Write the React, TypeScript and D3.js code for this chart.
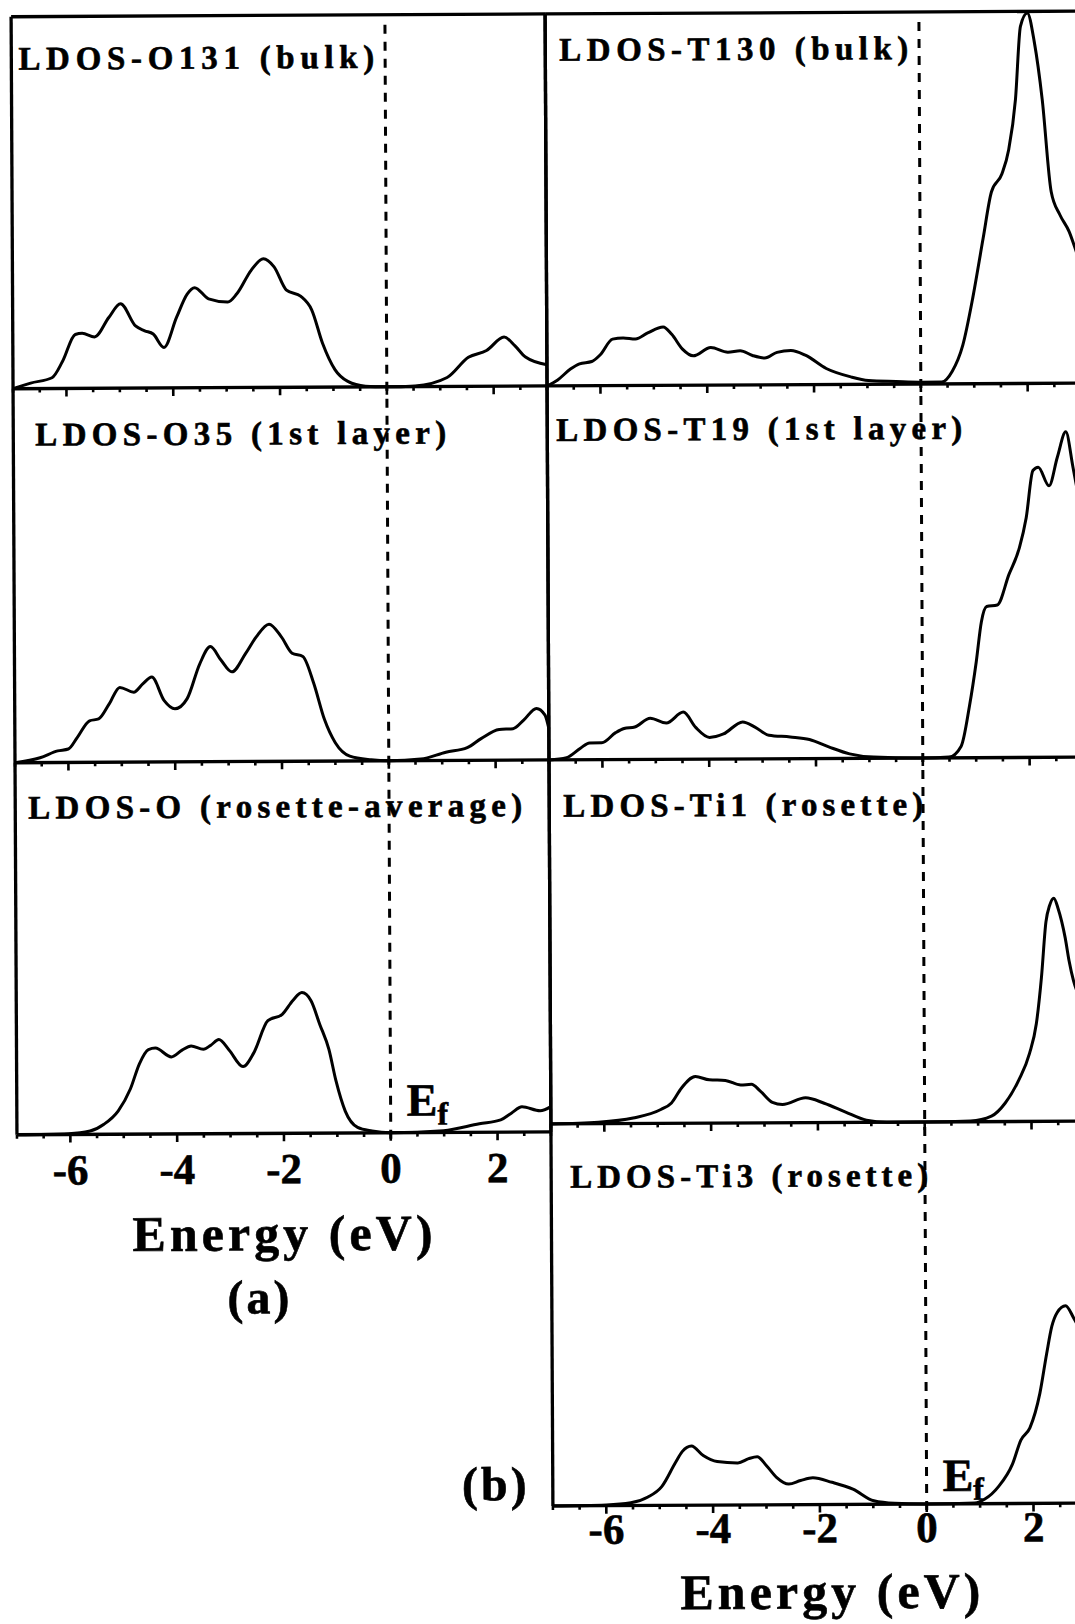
import React from "react";
import * as d3 from "d3";

// energies (eV) and LDOS (arb. units, % of panel height) for each panel
const o131E = [-7, -6.67, -6.27, -6.07, -5.83, -5.7, -5.47, -5.2, -4.98, -4.7, -4.53, -4.37, -4.17, -3.93, -3.73, -3.59, -3.33, -2.97, -2.8, -2.53, -2.3, -2.1, -1.87, -1.6, -1.4, -1.2, -0.97, -0.73, -0.4, 0, 0.53, 1.13, 1.53, 1.87, 2.2, 2.4, 2.6, 3.0];
const o131Dos = [0, 1.5, 2.9, 7.3, 14.5, 14.8, 13.8, 19, 22.7, 16.7, 15.4, 14.5, 10.9, 19, 25.2, 26.9, 23.9, 23, 25.2, 31.5, 34.6, 32.4, 26.1, 24.4, 20.8, 11.8, 4.7, 1.5, 0.2, 0, 0.2, 2.4, 7.8, 9.6, 13.2, 10.9, 7.8, 5.7];

const o35E = [-7, -6.53, -6.2, -6.0, -5.83, -5.6, -5.43, -5.23, -5.03, -4.77, -4.6, -4.43, -4.2, -4.0, -3.77, -3.53, -3.33, -3.13, -2.93, -2.67, -2.47, -2.23, -2.0, -1.8, -1.6, -1.4, -1.2, -1.0, -0.73, -0.33, 0, 0.6, 1.07, 1.47, 1.73, 2.07, 2.33, 2.53, 2.77, 2.93, 3.0];
const o35Dos = [0, 1.3, 3.1, 3.6, 6.7, 11.1, 11.6, 15.6, 20, 18.7, 20.9, 22.7, 16.4, 14.2, 16.9, 26.2, 30.8, 27.1, 24, 28.9, 33.3, 36.7, 33.3, 28.9, 28, 20.9, 11.1, 4.9, 1.3, 0.3, 0, 0.4, 2.2, 3.4, 5.8, 8.2, 8.4, 10.7, 13.8, 12, 8.4];

const oRosE = [-7, -6.03, -5.63, -5.37, -5.1, -4.87, -4.7, -4.53, -4.4, -4.1, -3.9, -3.73, -3.5, -3.36, -3.21, -3.02, -2.76, -2.56, -2.29, -2.02, -1.82, -1.65, -1.48, -1.32, -1.15, -1.02, -0.85, -0.62, -0.35, 0, 0.99, 1.66, 2.06, 2.26, 2.46, 2.8, 3.0];
const oRosDos = [0, 0.2, 0.9, 2.7, 6.3, 12.2, 18.9, 22.7, 23.1, 20.7, 22.5, 23.6, 22.7, 23.8, 25.3, 22.5, 18, 21.6, 30.3, 32, 35.7, 37.8, 35.6, 29.3, 22.5, 14, 5.9, 1.5, 0.5, 0, 0.5, 2.3, 3.3, 5.1, 6.8, 5.7, 6.8];

const t130E = [-7, -6.8, -6.56, -6.39, -6.16, -6.0, -5.77, -5.57, -5.34, -5.11, -4.82, -4.66, -4.46, -4.26, -3.93, -3.61, -3.38, -3.15, -2.92, -2.69, -2.43, -2.16, -1.77, -1.31, -0.98, -0.46, 0, 0.39, 0.59, 0.79, 0.98, 1.18, 1.34, 1.54, 1.67, 1.8, 1.9, 2.03, 2.16, 2.3, 2.46, 2.62, 2.79, 2.92, 3.0];
const t130Dos = [0, 1.6, 4.5, 5.9, 6.5, 8.3, 12.5, 12.8, 12.5, 14.1, 15.7, 13.7, 9.7, 7.9, 10.1, 8.8, 9.2, 7.9, 7.2, 8.7, 9.2, 7.9, 4.3, 2, 1, 0.7, 0.5, 0.5, 3.4, 10.4, 23, 39, 51.5, 56.4, 63, 76.4, 96, 99.6, 91.6, 76.4, 51.5, 45.3, 40.8, 35.5, 32];

const t19E = [-7, -6.67, -6.41, -6.24, -6.01, -5.75, -5.59, -5.39, -5.1, -4.8, -4.48, -4.25, -3.99, -3.73, -3.37, -3.14, -2.88, -2.48, -2.12, -1.76, -1.37, -0.92, 0, 0.49, 0.72, 0.88, 1.01, 1.11, 1.21, 1.41, 1.63, 1.83, 1.96, 2.09, 2.19, 2.39, 2.55, 2.71, 2.84, 3.0];
const t19Dos = [0, 0.6, 3.1, 4.5, 4.5, 7.2, 8.3, 8.7, 11, 9.7, 12.6, 8.5, 5.8, 6.7, 9.9, 8.5, 6.3, 5.8, 5.1, 3.1, 1.2, 0.3, 0, 0.2, 3.1, 13.9, 25.6, 36.3, 40.4, 40.8, 48.9, 56.1, 64.1, 76.7, 77.6, 72.6, 80.3, 87, 77.6, 65];

const ti1E = [-7, -6.11, -5.46, -4.94, -4.74, -4.55, -4.29, -4.03, -3.73, -3.44, -3.24, -3.08, -2.85, -2.66, -2.23, -1.88, -1.49, -1.09, -0.7, 0, 0.86, 1.25, 1.51, 1.77, 1.97, 2.1, 2.2, 2.29, 2.36, 2.44, 2.52, 2.65, 2.72, 2.8, 3.0];
const ti1Dos = [0, 0.4, 1.5, 3.8, 5.6, 9.7, 12.8, 11.9, 11.7, 10.4, 10.6, 8.8, 5.6, 5, 6.8, 5.3, 2.9, 0.6, 0, 0, 0.2, 1.5, 5.1, 11.5, 18.7, 26.8, 39.5, 54.8, 59.3, 61.3, 58.4, 50.3, 44, 38.6, 33];

const ti3E = [-7, -6.0, -5.54, -5.22, -4.96, -4.7, -4.57, -4.4, -4.18, -3.92, -3.53, -3.33, -3.17, -3.0, -2.81, -2.58, -2.36, -2.13, -1.77, -1.38, -0.99, -0.6, 0, 0.9, 1.09, 1.35, 1.61, 1.77, 1.94, 2.13, 2.26, 2.36, 2.46, 2.62, 2.77, 3.0];
const ti3Dos = [0, 0.2, 0.7, 2.2, 4.9, 11.2, 14.1, 15.5, 13, 11.4, 11, 12.1, 12.6, 10.3, 7.2, 5.4, 6.3, 7, 5.8, 4, 0.9, 0.2, 0, 0.2, 1.2, 4.5, 10.3, 16.6, 19.8, 28.8, 39.1, 46.3, 49.9, 51.7, 48.5, 42];

const leftTitles = ["LDOS-O131 (bulk)", "LDOS-O35 (1st layer)", "LDOS-O (rosette-average)"];
const rightTitles = ["LDOS-T130 (bulk)", "LDOS-T19 (1st layer)", "LDOS-Ti1 (rosette)", "LDOS-Ti3 (rosette)"];
const tickLabels = [-6, -4, -2, 0, 2];

const W = 1075;
const H = 1624;
const FONT = "'Liberation Serif', 'Times New Roman', serif";

const xLeft = d3.scaleLinear().domain([-7, 3]).range([15, 549]);
const xRight = d3.scaleLinear().domain([-7, 3]).range([549, 1083]);

// panel box, title position and title width
const leftRows = [
  { top: 14, bottom: 386, tb: 67, tx: 22, tw: 356, E: o131E, D: o131Dos },
  { top: 386, bottom: 760, tb: 443, tx: 37, tw: 411, E: o35E, D: o35Dos },
  { top: 760, bottom: 1132, tb: 816, tx: 28, tw: 494, E: oRosE, D: oRosDos },
];
const rightRows = [
  { top: 14, bottom: 386, tb: 61, tx: 563, tw: 349, E: t130E, D: t130Dos },
  { top: 386, bottom: 760, tb: 441, tx: 558, tw: 406, E: t19E, D: t19Dos },
  { top: 760, bottom: 1124, tb: 817, tx: 563, tw: 360, E: ti1E, D: ti1Dos },
  { top: 1124, bottom: 1506, tb: 1188, tx: 568, tw: 358, E: ti3E, D: ti3Dos },
];

const SW = 3;
const BOLD = { fontFamily: FONT, fontWeight: "bold", stroke: "#000", strokeWidth: 0.6 };

function Panel({ row, x, title }) {
  const y = d3.scaleLinear().domain([0, 100]).range([row.bottom, row.top]);
  const line = d3
    .line<number>()
    .x((_, i) => x(row.E[i]))
    .y((d) => y(d))
    .curve(d3.curveMonotoneX);
  const ticks = x.ticks(20);
  const [x0, x1] = x.range();
  return (
    <g>
      <path d={line(row.D) || ""} fill="none" stroke="#000" strokeWidth={SW} strokeLinejoin="round" />
      <line x1={x0} x2={x1} y1={row.bottom} y2={row.bottom} stroke="#000" strokeWidth={SW + 0.3} />
      {ticks.map((t) => {
        const major = Math.abs(t % 2) < 1e-9;
        return (
          <line
            key={t}
            x1={x(t)}
            x2={x(t)}
            y1={row.bottom}
            y2={row.bottom + (major ? 8 : 4)}
            stroke="#000"
            strokeWidth={SW - 0.4}
          />
        );
      })}
      <text {...BOLD} x={row.tx} y={row.tb} fontSize={33} textLength={row.tw} lengthAdjust="spacing">
        {title}
      </text>
    </g>
  );
}

function Column({ rows, x, titles, axisY, efUp, labelY, energyY, energyX, letter, letterX, letterY }) {
  const [x0, x1] = x.range();
  const top = rows[0].top;
  const bottom = rows[rows.length - 1].bottom;
  return (
    <g>
      {rows.map((r, i) => (
        <Panel key={i} row={r} x={x} title={titles[i]} />
      ))}
      <line x1={x0} x2={x1} y1={top} y2={top} stroke="#000" strokeWidth={SW + 0.3} />
      <line x1={x0} x2={x0} y1={top} y2={bottom} stroke="#000" strokeWidth={SW + 0.3} />
      <line x1={x1} x2={x1} y1={top} y2={bottom} stroke="#000" strokeWidth={SW + 0.3} />
      <line
        x1={x(0)}
        x2={x(0)}
        y1={top + 10}
        y2={bottom + 8}
        stroke="#000"
        strokeWidth={3}
        strokeDasharray="9 8"
      />
      {tickLabels.map((t) => (
        <text key={t} {...BOLD} x={x(t)} y={labelY} textAnchor="middle" fontSize={43}>
          {t}
        </text>
      ))}
      <text
        {...BOLD}
        x={energyX - 150}
        y={energyY}
        fontSize={50}
        textLength={300}
        lengthAdjust="spacing"
      >
        Energy (eV)
      </text>
      <text {...BOLD} x={x(0) + 16} y={axisY - efUp} fontSize={46}>
        E
        <tspan fontSize={32} dy={9}>
          f
        </tspan>
      </text>
      <text {...BOLD} x={letterX} y={letterY} textAnchor="middle" fontSize={48} letterSpacing={3}>
        {letter}
      </text>
    </g>
  );
}

export default function App() {
  return (
    <svg
      width={W}
      height={H}
      viewBox={`0 0 ${W} ${H}`}
      style={{ position: "absolute", left: 0, top: 0, background: "#fff" }}
    >
      <rect width={W} height={H} fill="#fff" />
      {/* slight skew of the scanned page */}
      <g transform="rotate(-0.3 537 760)">
        <Column
          rows={leftRows}
          x={xLeft}
          titles={leftTitles}
          axisY={1132}
          efUp={17}
          labelY={1182}
          energyY={1249}
          energyX={280}
          letter="(a)"
          letterX={257}
          letterY={1312}
        />
        <Column
          rows={rightRows}
          x={xRight}
          titles={rightTitles}
          axisY={1506}
          efUp={13}
          labelY={1544}
          energyY={1610}
          energyX={826}
          letter="(b)"
          letterX={492}
          letterY={1500}
        />
      </g>
    </svg>
  );
}
